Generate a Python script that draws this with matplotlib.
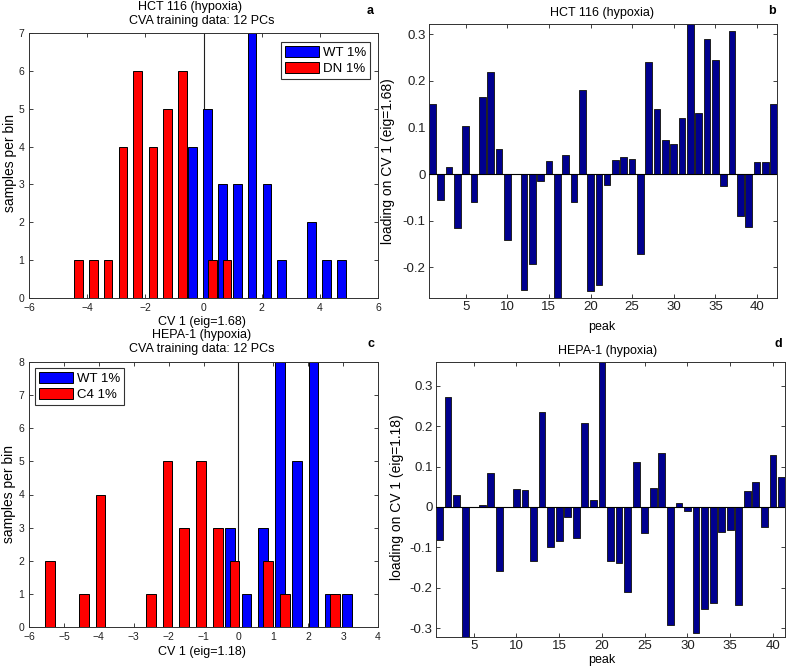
import matplotlib
matplotlib.use("Agg")
import matplotlib.pyplot as plt
import numpy as np

plt.rcParams['font.family'] = ['Liberation Sans', 'DejaVu Sans']

# ---------------- data ----------------
# Panel a: HCT 116 histogram (bin centres and counts)
bins_a = [-4.38, -3.87, -3.36, -2.85, -2.34, -1.82, -1.31, -0.80, -0.29, 0.22,
          0.73, 1.24, 1.75, 2.26, 2.77, 3.29, 3.80, 4.31, 4.82]
wt_a = [0, 0, 0, 0, 0, 0, 0, 0, 4, 5, 3, 3, 7, 3, 1, 0, 2, 1, 1]
dn_a = [1, 1, 1, 4, 6, 4, 5, 6, 0, 1, 1, 0, 0, 0, 0, 0, 0, 0, 0]

# Panel b: HCT 116 loadings on CV 1
peaks_b = list(range(1, 43))
load_b = [0.150, -0.056, 0.015, -0.116, 0.104, -0.059, 0.166, 0.219, 0.054, -0.142,
          0.000, -0.248, -0.193, -0.015, 0.028, -0.266, 0.041, -0.059, 0.180, -0.251,
          -0.238, -0.024, 0.031, 0.037, 0.033, -0.172, 0.240, 0.140, 0.073, 0.064,
          0.121, 0.322, 0.132, 0.289, 0.244, -0.026, 0.307, -0.089, -0.114, 0.026,
          0.026, 0.150]

# Panel c: HEPA-1 histogram
bins_c = [-5.46, -4.98, -4.50, -4.02, -3.54, -3.06, -2.58, -2.10, -1.62, -1.14,
          -0.66, -0.18, 0.30, 0.78, 1.26, 1.74, 2.22, 2.70, 3.18]
wt_c = [0, 0, 0, 0, 0, 0, 0, 0, 0, 0, 0, 3, 1, 3, 8, 5, 8, 1, 1]
c4_c = [2, 0, 1, 4, 0, 0, 1, 5, 3, 5, 3, 2, 0, 2, 1, 0, 0, 1, 0]

# Panel d: HEPA-1 loadings on CV 1
peaks_d = list(range(1, 42))
load_d = [-0.082, 0.272, 0.029, -0.322, 0.000, 0.005, 0.085, -0.159, 0.000, 0.045,
          0.042, -0.135, 0.235, -0.100, -0.085, -0.024, -0.076, 0.209, 0.017, 0.359,
          -0.135, -0.139, -0.211, 0.111, -0.065, 0.048, 0.133, -0.292, 0.009, -0.011,
          -0.311, -0.252, -0.237, -0.062, -0.057, -0.242, 0.040, 0.063, -0.050, 0.129,
          0.075]

# ---------------- figure ----------------
W, H = 787, 672
fig = plt.figure(figsize=(W / 100, H / 100), dpi=100)


def px_ax(l, t, r, b):
    return fig.add_axes([l / W, 1 - b / H, (r - l) / W, (b - t) / H])


def ftext(x, y, s, **kw):
    fig.text(x / W, 1 - y / H, s, ha=kw.pop('ha', 'center'), va=kw.pop('va', 'center'), **kw)


def style(ax, fs, xpad, ypad):
    ax.tick_params(direction='in', top=True, right=True, length=3, width=0.6,
                   labelsize=fs, colors='#202020')
    ax.tick_params(axis='x', pad=xpad)
    ax.tick_params(axis='y', pad=ypad)
    for s in ax.spines.values():
        s.set_linewidth(0.7)
        s.set_color('#303030')


def hist_panel(ax, bins, s1, s2, off, w, lab1, lab2, xlim, ylim, xticks, legloc, legbox):
    bins = np.asarray(bins)
    ax.bar(bins - off, s1, width=w, color='#0000ff', edgecolor='black', linewidth=0.7,
           label=lab1, zorder=2)
    ax.bar(bins + off, s2, width=w, color='#ff0000', edgecolor='black', linewidth=0.7,
           label=lab2, zorder=3)
    ax.axvline(0, color='#202020', lw=0.8, zorder=1)
    ax.set_xlim(*xlim)
    ax.set_ylim(*ylim)
    ax.set_xticks(xticks)
    ax.set_yticks(range(ylim[0], ylim[1] + 1))
    style(ax, 7.5, 3.5, 3.5)
    leg = ax.legend(loc=legloc, bbox_to_anchor=(legbox[0] / W, 1 - legbox[1] / H),
                    bbox_transform=fig.transFigure, fontsize=9.5, frameon=True, fancybox=False,
                    handlelength=2.6, handleheight=0.9, handletextpad=0.3, borderpad=0.3,
                    labelspacing=0.25, borderaxespad=0)
    leg.get_frame().set_edgecolor('black')
    leg.get_frame().set_linewidth(0.8)


def load_panel(ax, peaks, vals, xticks, yticks):
    ax.bar(peaks, vals, width=0.8, color='#00008f', edgecolor='#202020', linewidth=0.7, zorder=2)
    ax.axhline(0, color='black', lw=0.8, zorder=3)
    ax.set_xlim(peaks[0] - 0.4, peaks[-1] + 0.4)
    ax.set_ylim(min(vals), max(vals))
    ax.set_xticks(xticks)
    ax.set_yticks(yticks)
    ax.set_yticklabels([('%g' % t) for t in yticks])
    style(ax, 9.5, 2.5, 2.5)


# Panel a
ax_a = px_ax(29, 33, 378, 298)
hist_panel(ax_a, bins_a, wt_a, dn_a, 0.08, 0.30, 'WT 1%', 'DN 1%', (-6, 6), (0, 7),
           range(-6, 7, 2), 'upper right', (370, 42))
ftext(190, 7, 'HCT 116 (hypoxia)', fontsize=9)
ftext(202, 21, 'CVA training data: 12 PCs', fontsize=9)
ftext(370, 11, 'a', fontsize=9, fontweight='bold')
ftext(202, 322, 'CV 1 (eig=1.68)', fontsize=9)
ftext(10, 163, 'samples per bin', fontsize=10, rotation=90)

# Panel b
ax_b = px_ax(429, 24, 777, 298)
load_panel(ax_b, peaks_b, load_b, range(5, 41, 5), [-0.2, -0.1, 0, 0.1, 0.2, 0.3])
ftext(602, 13, 'HCT 116 (hypoxia)', fontsize=9)
ftext(772, 11, 'b', fontsize=9, fontweight='bold')
ftext(602, 327, 'peak', fontsize=9)
ftext(388, 161, 'loading on CV 1 (eig=1.68)', fontsize=10, rotation=90)

# Panel c
ax_c = px_ax(29, 362, 378, 627)
hist_panel(ax_c, bins_c, wt_c, c4_c, 0.07, 0.28, 'WT 1%', 'C4 1%', (-6, 4), (0, 8),
           range(-6, 5, 1), 'upper left', (35, 368))
ftext(202, 335, 'HEPA-1 (hypoxia)', fontsize=9)
ftext(202, 349, 'CVA training data: 12 PCs', fontsize=9)
ftext(371, 344, 'c', fontsize=9, fontweight='bold')
ftext(202, 652, 'CV 1 (eig=1.18)', fontsize=9)
ftext(9, 494, 'samples per bin', fontsize=10, rotation=90)

# Panel d
ax_d = px_ax(436, 362, 785, 637)
load_panel(ax_d, peaks_d, load_d, range(5, 41, 5), [-0.3, -0.2, -0.1, 0, 0.1, 0.2, 0.3])
ftext(608, 351, 'HEPA-1 (hypoxia)', fontsize=9)
ftext(778, 344, 'd', fontsize=9, fontweight='bold')
ftext(602, 660, 'peak', fontsize=9)
ftext(397, 497, 'loading on CV 1 (eig=1.18)', fontsize=10, rotation=90)

fig.savefig('out.png', dpi=100)
